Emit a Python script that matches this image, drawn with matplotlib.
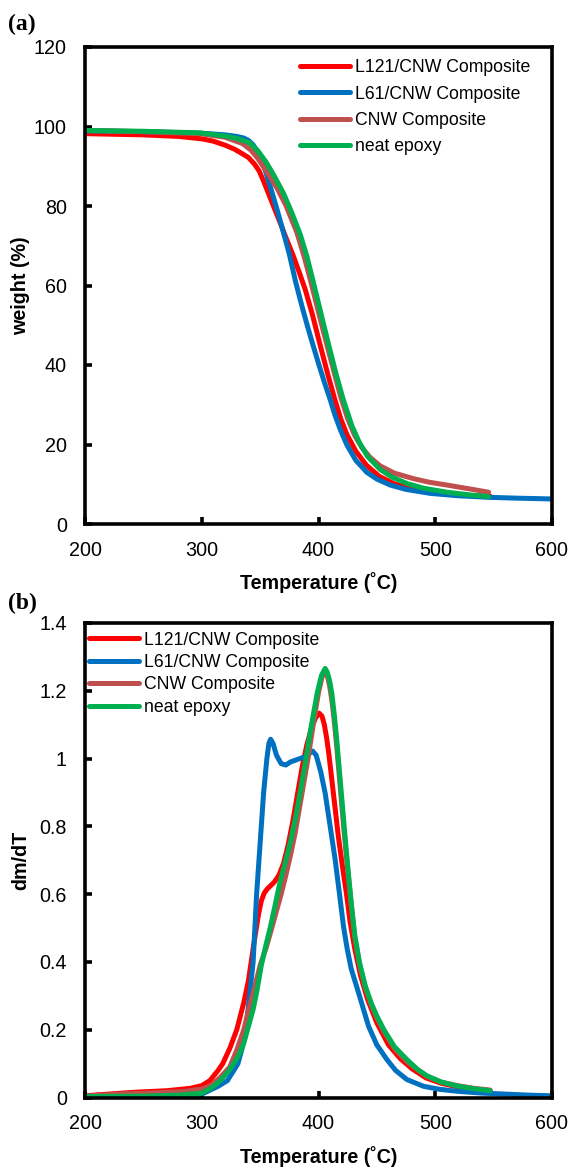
import matplotlib
matplotlib.use("Agg")
import matplotlib.pyplot as plt
from matplotlib.ticker import FuncFormatter, MultipleLocator

plt.rcParams['font.family'] = ['Liberation Sans', 'DejaVu Sans']

labels = ["L121/CNW Composite", "L61/CNW Composite", "CNW Composite", "neat epoxy"]
colors = ["#FF0000", "#0070C0", "#C0504D", "#00B050"]

# ---- (a) TGA: weight (%) vs temperature (°C) ----
tga_l121_T = [200, 250, 280, 300, 310, 320, 328, 335, 340, 345, 349, 352.5, 356, 361, 367, 372,
              378.6, 383.5, 388.6, 394.5, 401.4, 408, 414.3, 419, 424.3, 432, 441, 452, 465,
              480, 500, 520, 547]
tga_l121_w = [98.2, 97.9, 97.5, 96.9, 96.3, 95.3, 94.3, 93.1, 92.2, 90.6, 88.9, 86.6, 84.0,
              80.3, 75.9, 72.1, 67.3, 63.3, 59.0, 53.0, 45.0, 37.6, 31.0, 26.5, 22.5, 18.3,
              14.8, 12.0, 10.1, 8.9, 7.9, 7.3, 7.0]

tga_l61_T = [200, 250, 300, 320, 330, 336, 340, 344, 348, 352, 356, 360, 365, 370, 375, 380.5,
             386, 391, 395.7, 400, 405, 410, 414, 418.6, 424.3, 432, 441.4, 450, 461.4, 475,
             495.7, 520, 547, 570, 600]
tga_l61_w = [98.9, 98.7, 98.3, 97.9, 97.5, 97.1, 96.5, 95.4, 93.6, 91.0, 87.5, 83.6, 78.6,
             73.3, 67.9, 60.8, 54.6, 49.3, 44.6, 40.4, 35.7, 31.3, 27.5, 23.8, 19.9, 16.0,
             13.0, 11.3, 9.8, 8.7, 7.7, 7.1, 6.7, 6.5, 6.3]

tga_cnw_T = [200, 250, 298.6, 320, 335, 342, 348, 355, 364.3, 372, 381.4, 388, 394, 400, 407,
             413, 419, 425, 431, 437, 444, 453, 465, 481.4, 495, 510, 530, 545.7]
tga_cnw_w = [99.0, 98.7, 98.2, 97.3, 95.7, 94.1, 92.0, 88.9, 84.6, 80.2, 73.4, 67.0, 60.3, 53.3,
             45.3, 38.6, 32.0, 26.5, 22.3, 19.3, 16.8, 14.6, 12.8, 11.4, 10.5, 9.8, 8.8, 8.0]

tga_neat_T = [200, 250, 298.6, 320, 330, 341, 348, 355, 362, 370, 377, 384.3, 390, 395.7, 401,
              408.6, 415, 421, 428.6, 435, 442, 452.9, 463, 475.7, 490, 510, 530, 545.7]
tga_neat_w = [99.0, 98.8, 98.4, 97.6, 97.0, 95.9, 93.9, 91.1, 87.6, 83.2, 78.4, 72.9, 67.4,
              60.7, 54.3, 45.2, 37.8, 31.5, 24.7, 20.5, 17.0, 13.7, 11.8, 10.2, 9.0, 8.0, 7.3,
              6.9]

# ---- (b) DTG: dm/dT vs temperature (°C) ----
dtg_l121_T = [200, 220, 245, 270, 290, 300, 307, 314, 318, 324, 330, 336, 340, 344.3, 348.6,
              351, 353.5, 356, 359, 362, 366, 370, 374, 378, 382, 386, 390, 394, 397.5, 400.5,
              403, 405, 407, 409, 411, 413, 415, 417, 419, 421, 424, 427, 431, 436, 442, 450,
              460, 470, 480, 492, 505, 520, 535, 547]
dtg_l121_v = [0.005, 0.01, 0.016, 0.02, 0.027, 0.035, 0.05, 0.08, 0.1, 0.145, 0.2, 0.28, 0.345,
              0.446, 0.54, 0.58, 0.603, 0.615, 0.625, 0.635, 0.655, 0.69, 0.745, 0.815, 0.895,
              0.975, 1.04, 1.09, 1.12, 1.134, 1.125, 1.1, 1.06, 1.01, 0.95, 0.89, 0.83, 0.77,
              0.72, 0.67, 0.6, 0.52, 0.44, 0.36, 0.29, 0.22, 0.155, 0.115, 0.085, 0.058, 0.042,
              0.031, 0.025, 0.02]

dtg_l61_T = [200, 250, 280, 300, 314, 322, 328, 331, 335, 337.7, 341, 344, 347, 350, 353,
             355.8, 357.5, 359, 361, 364, 368, 372, 376, 380, 384, 388, 391, 395, 398, 402,
             405.7, 410, 414.3, 418, 421.4, 424.5, 428, 434.3, 442.9, 450, 458.6, 466, 475.7,
             490, 504, 520, 540, 560, 580, 600]
dtg_l61_v = [0.003, 0.004, 0.006, 0.01, 0.033, 0.05, 0.083, 0.1, 0.15, 0.2, 0.3, 0.4, 0.6,
             0.75, 0.9, 1.0, 1.045, 1.057, 1.045, 1.01, 0.985, 0.981, 0.99, 0.995, 1.0, 1.005,
             1.012, 1.022, 1.01, 0.96, 0.898, 0.8, 0.701, 0.6, 0.505, 0.44, 0.38, 0.309, 0.21,
             0.155, 0.112, 0.08, 0.053, 0.033, 0.024, 0.018, 0.013, 0.01, 0.007, 0.005]

dtg_cnw_T = [200, 230, 260, 285, 300, 308, 316, 324, 330, 336, 341, 345, 350, 355, 360, 364,
             368, 372, 376, 380, 383.5, 387, 391, 395.5, 400, 403, 405.5, 407.5, 409.5, 411.5,
             413.5, 415.5, 417.5, 419.5, 421.5, 423.5, 425.5, 428, 431, 435, 440, 445, 450, 456,
             465, 476, 493, 505, 519, 533, 547]
dtg_cnw_v = [0.004, 0.01, 0.014, 0.018, 0.025, 0.035, 0.06, 0.09, 0.14, 0.2, 0.27, 0.32, 0.39,
             0.44, 0.5, 0.55, 0.6, 0.655, 0.715, 0.78, 0.85, 0.92, 1.0, 1.1, 1.195, 1.24, 1.255,
             1.245, 1.215, 1.17, 1.11, 1.04, 0.96, 0.88, 0.8, 0.725, 0.655, 0.57, 0.475, 0.395,
             0.325, 0.275, 0.235, 0.195, 0.145, 0.105, 0.062, 0.045, 0.035, 0.027, 0.022]

dtg_neat_T = [200, 250, 280, 300, 308, 316, 324, 331, 336, 340, 344, 347, 351, 355, 358.6, 363,
              367, 372, 376, 380, 384.3, 389, 394, 399, 402.5, 405.7, 407.5, 409.5, 411.5,
              413.5, 415.5, 417.5, 419.5, 421.5, 423.5, 425.5, 428, 431, 435, 440, 445, 450,
              456, 465, 475.7, 485, 492.9, 505, 518.6, 533, 547]
dtg_neat_v = [0.003, 0.004, 0.007, 0.013, 0.028, 0.05, 0.083, 0.12, 0.16, 0.21, 0.26, 0.31,
              0.39, 0.45, 0.5, 0.57, 0.635, 0.7, 0.755, 0.82, 0.9, 0.995, 1.1, 1.195, 1.245,
              1.266, 1.255, 1.23, 1.19, 1.13, 1.06, 0.98, 0.9, 0.82, 0.74, 0.665, 0.575, 0.48,
              0.4, 0.33, 0.28, 0.24, 0.2, 0.15, 0.112, 0.082, 0.064, 0.046, 0.034, 0.026, 0.02]

tga_T = [tga_l121_T, tga_l61_T, tga_cnw_T, tga_neat_T]
tga_w = [tga_l121_w, tga_l61_w, tga_cnw_w, tga_neat_w]
dtg_T = [dtg_l121_T, dtg_l61_T, dtg_cnw_T, dtg_neat_T]
dtg_v = [dtg_l121_v, dtg_l61_v, dtg_cnw_v, dtg_neat_v]

W, H = 572, 1170
fig = plt.figure(figsize=(W / 100, H / 100), dpi=100)


def px_axes(left, top, right, bottom):
    return fig.add_axes([left / W, 1 - bottom / H, (right - left) / W, (bottom - top) / H])


ax_a = px_axes(85, 47, 552, 524)
ax_b = px_axes(85, 623, 552, 1097.5)

fmt = FuncFormatter(lambda v, p: f"{v:g}")
tick_fs = 14.2
label_fs = 14.2
legend_fs = 12.7

for ax in (ax_a, ax_b):
    ax.set_xlim(200, 600)
    ax.xaxis.set_major_locator(MultipleLocator(100))
    ax.yaxis.set_major_formatter(fmt)
    for sp in ax.spines.values():
        sp.set_linewidth(2.6)
        sp.set_color("black")
    ax.tick_params(direction="in", length=5, width=2.6, labelsize=tick_fs, pad=13,
                   top=False, right=False)
    ax.tick_params(axis="x", pad=12)
    ax.set_xlabel("Temperature (˚C)", fontsize=label_fs, fontweight="bold", labelpad=9)

ax_a.set_ylim(0, 120)
ax_a.yaxis.set_major_locator(MultipleLocator(20))
ax_b.set_ylim(0, 1.4)
ax_b.yaxis.set_major_locator(MultipleLocator(0.2))

for T, w, c, lab in zip(tga_T, tga_w, colors, labels):
    ax_a.plot(T, w, color=c, lw=3.6, label=lab, solid_capstyle="round",
              solid_joinstyle="round")
for T, v, c, lab in zip(dtg_T, dtg_v, colors, labels):
    ax_b.plot(T, v, color=c, lw=3.6, label=lab, solid_capstyle="round",
              solid_joinstyle="round")

ax_a.set_ylabel("weight (%)", fontsize=label_fs, fontweight="bold")
ax_a.yaxis.set_label_coords(-0.118, 0.5)
ax_b.set_ylabel("dm/dT", fontsize=label_fs, fontweight="bold")
ax_b.yaxis.set_label_coords(-0.118, 0.5)

leg_kw = dict(frameon=False, fontsize=legend_fs, handlelength=2.85, handletextpad=0.3,
              borderpad=0, borderaxespad=0, loc="upper left")
ax_a.legend(bbox_to_anchor=(0.46, 0.974), labelspacing=0.52, **leg_kw)
ax_b.legend(bbox_to_anchor=(0.008, 0.982), labelspacing=0.31, **leg_kw)

fig.text(8 / W, 1 - 24 / H, "(a)", family=["Liberation Serif", "DejaVu Serif"],
         fontweight="bold", fontsize=17, va="center", ha="left")
fig.text(8 / W, 1 - 603 / H, "(b)", family=["Liberation Serif", "DejaVu Serif"],
         fontweight="bold", fontsize=17, va="center", ha="left")

fig.savefig("out.png", dpi=100)
